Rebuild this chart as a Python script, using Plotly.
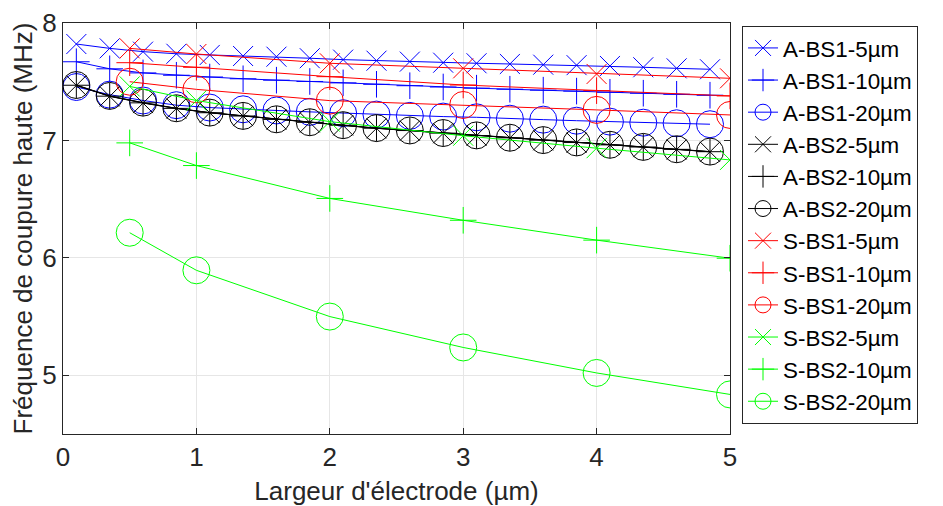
import plotly.graph_objects as go

# x positions
x_dense = [0.1, 0.35, 0.6, 0.85, 1.1, 1.35, 1.6, 1.85, 2.1, 2.35,
           2.6, 2.85, 3.1, 3.35, 3.6, 3.85, 4.1, 4.35, 4.6, 4.85]
x_sparse = [0.5, 1, 2, 3, 4, 5]

# A-BS1 (blue)
a_bs1_5 = [7.821, 7.784, 7.756, 7.738, 7.728, 7.719, 7.713, 7.70, 7.688, 7.679,
           7.671, 7.662, 7.657, 7.651, 7.645, 7.641, 7.634, 7.623, 7.614, 7.606]
a_bs1_10 = [7.67, 7.61, 7.575, 7.555, 7.54, 7.525, 7.513, 7.502, 7.49, 7.478,
            7.466, 7.455, 7.445, 7.436, 7.428, 7.42, 7.41, 7.402, 7.393, 7.385]
a_bs1_20 = [7.455, 7.39, 7.34, 7.30, 7.28, 7.265, 7.255, 7.243, 7.232, 7.22,
            7.209, 7.203, 7.197, 7.185, 7.177, 7.168, 7.16, 7.151, 7.146, 7.138]
# A-BS2 (black)
a_bs2_5 = [7.468, 7.375, 7.318, 7.272, 7.235, 7.207, 7.178, 7.153, 7.128, 7.103,
           7.083, 7.061, 7.041, 7.021, 7.001, 6.981, 6.961, 6.943, 6.923, 6.903]
a_bs2_10 = [7.470, 7.377, 7.320, 7.273, 7.236, 7.208, 7.179, 7.154, 7.129, 7.104,
            7.084, 7.062, 7.042, 7.022, 7.002, 6.982, 6.962, 6.944, 6.924, 6.904]
a_bs2_20 = [7.472, 7.379, 7.322, 7.274, 7.237, 7.209, 7.18, 7.155, 7.13, 7.105,
            7.085, 7.063, 7.043, 7.023, 7.003, 6.983, 6.963, 6.945, 6.925, 6.905]
# S-BS1 (red)
s_bs1_5 = [7.784, 7.736, 7.657, 7.614, 7.566, 7.529]
s_bs1_10 = [7.662, 7.623, 7.543, 7.472, 7.424, 7.379]
s_bs1_20 = [7.50, 7.435, 7.339, 7.302, 7.26, 7.217]
# S-BS2 (green)
s_bs2_5 = [7.46, 7.34, 7.16, 7.04, 6.934, 6.834]
s_bs2_10 = [6.979, 6.786, 6.506, 6.32, 6.151, 5.997]
s_bs2_20 = [6.214, 5.894, 5.50, 5.237, 5.02, 4.837]

names = ["A-BS1-5µm", "A-BS1-10µm", "A-BS1-20µm",
         "A-BS2-5µm", "A-BS2-10µm", "A-BS2-20µm",
         "S-BS1-5µm", "S-BS1-10µm", "S-BS1-20µm",
         "S-BS2-5µm", "S-BS2-10µm", "S-BS2-20µm"]
series = [(x_dense, a_bs1_5), (x_dense, a_bs1_10), (x_dense, a_bs1_20),
          (x_dense, a_bs2_5), (x_dense, a_bs2_10), (x_dense, a_bs2_20),
          (x_sparse, s_bs1_5), (x_sparse, s_bs1_10), (x_sparse, s_bs1_20),
          (x_sparse, s_bs2_5), (x_sparse, s_bs2_10), (x_sparse, s_bs2_20)]
colors = ["#0000FF"] * 3 + ["#000000"] * 3 + ["#FF0000"] * 3 + ["#00FF00"] * 3
symbols = ["x-thin-open", "cross-thin-open", "circle-open"] * 4
sizes = [20, 19, 27] * 4

FONT = "Liberation Sans, Arial, sans-serif"
fig = go.Figure()
for (xs, ys), n, c, s, sz in zip(series, names, colors, symbols, sizes):
    fig.add_trace(go.Scatter(
        x=xs, y=ys, name=n, mode="lines+markers",
        line=dict(color=c, width=1),
        marker=dict(symbol=s, size=sz, color=c, line=dict(color=c, width=1)),
    ))

axis_common = dict(
    showline=True, linecolor="#262626", linewidth=1, mirror="ticks",
    ticks="inside", ticklen=6, tickcolor="#262626",
    showgrid=True, gridcolor="#e6e6e6", gridwidth=1, zeroline=False,
    tickfont=dict(family=FONT, size=26, color="#262626"),
    automargin=False,
)
fig.update_xaxes(range=[0, 5], tickvals=[0, 1, 2, 3, 4, 5],
                 title=dict(text="Largeur d'électrode (µm)",
                            font=dict(family=FONT, size=26, color="#262626"), standoff=16),
                 **axis_common)
fig.update_yaxes(range=[4.5, 8], tickvals=[5, 6, 7, 8],
                 title=dict(text="Fréquence de coupure haute (MHz)",
                            font=dict(family=FONT, size=26, color="#262626"), standoff=6),
                 **axis_common)

# the page body adds an 8 px offset; size and margins compensate for it
fig.update_layout(
    width=935, height=498,
    margin=dict(l=55, r=213, t=15, b=72, autoexpand=False),
    paper_bgcolor="white", plot_bgcolor="white",
    font=dict(family=FONT, size=26, color="#000000"),
    legend=dict(x=1.018, y=0.993, xanchor="left", yanchor="top",
                bordercolor="#262626", borderwidth=1, bgcolor="white",
                font=dict(family=FONT, size=22.4, color="#000000"),
                itemwidth=30, tracegroupgap=0),
    showlegend=True,
)
fig.write_html("out.html")
